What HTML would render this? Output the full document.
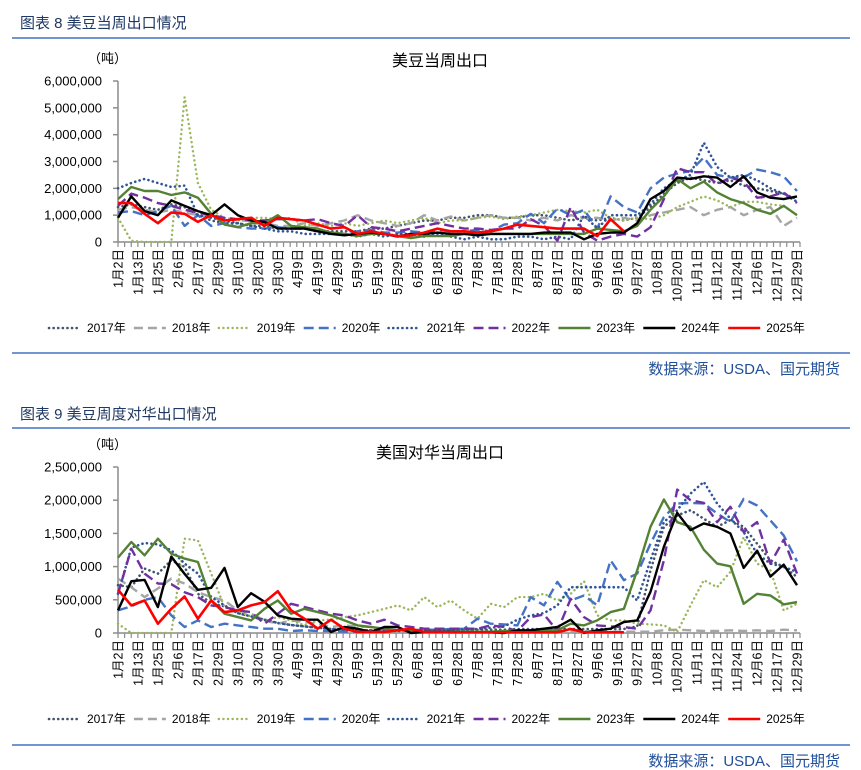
<!DOCTYPE html>
<html><head><meta charset="utf-8">
<style>
body{margin:0;background:#fff;width:861px;height:770px;overflow:hidden;font-family:"Liberation Sans","Noto Sans CJK SC",sans-serif;}
svg{display:block}
</style></head>
<body>
<svg id="svg" width="861" height="770" xmlns="http://www.w3.org/2000/svg" font-family="Liberation Sans, Noto Sans CJK SC, sans-serif">
<g>
<text x="20" y="28" font-size="15" fill="#1f3864">图表 8 美豆当周出口情况</text>
<line x1="12" y1="38" x2="850" y2="38" stroke="#4472c4" stroke-width="1.5"/>
</g>
<line x1="12" y1="353" x2="850" y2="353" stroke="#4472c4" stroke-width="1.5"/>
<text x="840" y="374" font-size="15" fill="#1f4e9a" text-anchor="end">数据来源：USDA、国元期货</text>
<g>
<text x="20" y="419" font-size="15" fill="#1f3864">图表 9 美豆周度对华出口情况</text>
<line x1="12" y1="428" x2="850" y2="428" stroke="#4472c4" stroke-width="1.5"/>
</g>
<line x1="12" y1="745" x2="850" y2="745" stroke="#4472c4" stroke-width="1.5"/>
<text x="840" y="766" font-size="15" fill="#1f4e9a" text-anchor="end">数据来源：USDA、国元期货</text>
</svg>
<script>
const xLabels=["1月2日","1月13日","1月25日","2月6日","2月17日","2月29日","3月10日","3月20日","3月30日","4月9日","4月19日","4月29日","5月9日","5月19日","5月29日","6月8日","6月18日","6月28日","7月8日","7月18日","7月28日","8月7日","8月17日","8月27日","9月6日","9月16日","9月27日","10月8日","10月20日","11月1日","11月12日","11月24日","12月6日","12月17日","12月29日"];
const seriesNames=["2017年","2018年","2019年","2020年","2021年","2022年","2023年","2024年","2025年"];
const topTicks=[0,1000000,2000000,3000000,4000000,5000000,6000000];
const topTickLabels=["0","1,000,000","2,000,000","3,000,000","4,000,000","5,000,000","6,000,000"];
const botTicks=[0,500000,1000000,1500000,2000000,2500000];
const botTickLabels=["0","500,000","1,000,000","1,500,000","2,000,000","2,500,000"];
// top chart values (million tonnes)
const top2017=[1.3,1.4,1.3,1.2,1.4,1.3,1.0,0.8,0.7,0.7,0.6,0.6,0.5,0.5,0.5,0.4,0.4,0.4,0.4,0.5,0.5,0.6,0.7,0.8,0.8,0.9,0.9,1.0,1.0,0.9,0.9,1.0,1.0,0.9,0.8,0.9,0.8,0.9,0.8,0.9,1.3,1.8,2.2,2.4,2.3,2.2,2.3,2.1,2.0,1.9,1.8,1.6];
const top2018=[1.2,1.3,1.2,1.1,1.2,1.1,1.0,0.9,0.9,0.8,0.8,0.7,0.6,0.6,0.7,0.6,0.7,0.8,1.0,0.8,0.7,0.6,0.7,1.0,0.8,0.95,0.8,0.9,1.0,0.9,0.9,0.8,0.9,0.8,1.0,0.9,0.9,0.8,0.9,0.8,1.0,1.1,1.2,1.3,1.0,1.2,1.3,1.0,1.2,1.3,0.6,0.9];
const top2019=[0.9,0.05,0,0,0,5.4,2.2,1.2,0.9,0.8,0.9,0.9,0.85,0.9,0.6,0.7,0.6,0.7,0.6,0.7,0.8,0.7,0.8,0.9,0.7,0.8,0.8,0.9,0.95,0.85,0.95,1.0,1.1,1.2,1.15,1.1,1.2,0.9,0.8,0.9,0.85,1.0,1.3,1.5,1.7,1.55,1.3,1.5,1.5,1.4,1.35,1.0];
const top2020=[1.1,1.15,1.0,1.15,1.35,0.6,1.0,0.6,0.7,0.55,0.5,0.5,0.55,0.5,0.5,0.4,0.35,0.3,0.4,0.45,0.35,0.35,0.4,0.35,0.45,0.4,0.4,0.45,0.4,0.65,0.7,1.05,0.7,1.25,1.0,1.2,0.5,1.7,1.3,1.1,2.0,2.4,2.55,2.65,3.15,2.5,2.4,2.4,2.7,2.6,2.45,1.9];
const top2021=[2.0,2.2,2.35,2.2,2.05,2.1,1.0,0.9,0.8,0.7,0.6,0.5,0.4,0.4,0.3,0.3,0.3,0.3,0.2,0.3,0.2,0.3,0.3,0.2,0.3,0.2,0.1,0.2,0.1,0.1,0.2,0.2,0.1,0.2,0.1,1.0,0.5,1.0,1.0,1.0,1.4,2.0,2.3,2.5,3.7,2.8,2.4,2.5,2.3,2.0,1.8,1.5];
const top2022=[1.35,1.8,1.65,1.45,1.35,1.2,1.1,1.0,0.9,0.85,0.8,0.8,0.85,0.85,0.8,0.85,0.7,0.6,1.0,0.55,0.5,0.4,0.5,0.6,0.7,0.6,0.5,0.5,0.45,0.5,0.5,0.85,0.6,0.05,1.3,0.35,0.05,0.2,0.3,0.2,0.55,1.6,2.75,2.6,2.6,2.15,2.4,2.25,1.65,1.7,1.85,1.45];
const top2023=[1.6,2.05,1.9,1.9,1.75,1.85,1.65,1.05,0.65,0.55,0.7,0.7,1.0,0.6,0.55,0.5,0.35,0.3,0.22,0.3,0.3,0.22,0.15,0.22,0.22,0.22,0.3,0.3,0.3,0.3,0.3,0.3,0.3,0.3,0.3,0.3,0.5,0.45,0.4,0.6,1.2,1.7,2.35,2.0,2.25,1.85,1.6,1.45,1.2,1.05,1.35,1.0];
const top2024=[0.9,1.7,1.15,1.0,1.55,1.35,1.15,1.0,1.4,1.0,0.8,0.75,0.5,0.5,0.5,0.4,0.3,0.25,0.3,0.35,0.3,0.2,0.3,0.3,0.35,0.3,0.3,0.25,0.3,0.3,0.3,0.3,0.35,0.35,0.35,0.1,0.3,0.35,0.35,0.7,1.6,1.9,2.4,2.35,2.45,2.4,2.05,2.45,1.85,1.65,1.6,1.7];
const top2025=[1.45,1.45,1.05,0.7,1.1,1.05,0.75,1.0,0.8,0.85,0.9,0.6,0.9,0.85,0.8,0.65,0.5,0.55,0.3,0.4,0.3,0.22,0.25,0.35,0.5,0.4,0.4,0.35,0.4,0.5,0.65,0.6,0.55,0.5,0.5,0.5,0.22,0.85,0.4];
// bottom chart values (thousand tonnes)
const bot2017=[720,690,970,895,1095,995,590,450,400,300,250,200,150,120,100,80,60,50,40,40,30,30,30,30,40,40,40,50,50,50,60,60,60,60,60,60,60,60,60,100,945,1600,1770,1850,1720,1600,1700,1600,1345,1095,995,845];
const bot2018=[820,690,540,670,820,745,615,540,490,340,290,190,140,190,165,140,90,115,100,90,40,30,20,20,20,20,20,20,20,20,20,20,20,30,30,30,20,20,20,20,20,40,50,40,30,30,40,30,40,30,50,40];
const bot2019=[140,0,0,0,0,1420,1395,895,390,340,240,190,240,190,115,190,200,240,265,315,365,415,340,540,390,490,340,215,440,390,540,540,590,490,590,780,265,190,190,140,130,115,15,415,795,690,920,1445,1045,945,340,440];
const bot2020=[340,400,500,540,265,90,190,90,140,115,90,65,65,30,40,30,30,20,20,20,30,40,40,50,50,60,65,215,140,130,115,540,415,770,490,565,415,1095,795,895,1345,1745,1950,1960,1950,1800,1670,2020,1920,1695,1470,1080];
const bot2021=[590,1285,1355,1335,1245,1045,895,540,415,300,250,200,150,120,100,80,60,50,40,40,40,40,40,40,40,40,50,60,80,100,200,265,300,415,690,690,690,690,690,490,1095,1670,1850,2100,2275,1950,1720,1520,1195,1045,995,920];
const bot2022=[590,1270,895,745,735,615,540,415,390,340,315,140,290,440,390,340,290,265,190,140,200,115,90,65,65,65,65,65,115,90,30,240,280,30,515,240,115,100,90,65,340,1095,2160,2000,1960,1670,1900,1520,1670,1045,1405,895];
const bot2023=[1135,1370,1170,1420,1195,1120,1070,490,290,240,190,365,490,290,365,315,265,190,115,90,65,40,40,20,20,20,20,20,20,30,30,40,40,40,140,115,190,315,365,945,1600,2010,1670,1600,1255,1045,1005,440,590,565,430,465];
const bot2024=[340,780,800,390,1150,890,650,680,980,390,600,470,265,215,200,200,15,90,65,15,90,90,0,15,15,15,10,10,10,0,40,40,65,90,200,0,40,65,165,190,620,1300,1810,1550,1650,1600,1500,980,1240,850,1030,720];
const bot2025=[650,415,490,140,365,550,215,490,315,340,415,465,630,340,215,65,200,65,15,15,15,40,65,15,15,10,10,10,10,10,10,10,10,10,60,10,10,10,10];

const NS="http://www.w3.org/2000/svg";
const svg=document.getElementById('svg');
const styles=[
 {c:"#44546a",w:2.6,d:"0.1 4.5",cap:"round"},
 {c:"#a5a5a5",w:2.4,d:"9 5",cap:"butt"},
 {c:"#9bb55a",w:2.4,d:"0.1 4.5",cap:"round"},
 {c:"#4472c4",w:2.4,d:"10 5",cap:"butt"},
 {c:"#2f5597",w:2.6,d:"0.1 4.5",cap:"round"},
 {c:"#7030a0",w:2.4,d:"10 5",cap:"butt"},
 {c:"#548235",w:2.4,d:"",cap:"butt"},
 {c:"#000000",w:2.4,d:"",cap:"butt"},
 {c:"#ff0000",w:2.6,d:"",cap:"butt"}];
function mk(tag,attrs,parent){const e=document.createElementNS(NS,tag);for(const k in attrs)e.setAttribute(k,attrs[k]);(parent||svg).appendChild(e);return e;}

function drawChart(cfg){
 const g=mk('g',{});
 
 
 const L=118,R=797,y0=cfg.y0,yT=cfg.yTop,max=cfg.max;
 const xs=i=>L+i*(R-L)/51;
 const ys=v=>y0-v/max*(y0-yT);
 const t=mk('text',{x:440,y:cfg.titleY,'font-size':16,'text-anchor':'middle',fill:'#000'},g);
 t.textContent=cfg.title;
 
 
 const u=mk('text',{x:88,y:yT-18,'font-size':13,fill:'#000'},g);
 u.textContent='（吨）';
 
 
 const ya=mk('line',{x1:L,y1:yT,x2:L,y2:y0,stroke:'#8c8c8c','stroke-width':1.5},g);
 
 
 cfg.ticks.forEach((v,k)=>{
  const y=ys(v/cfg.unit);
  mk('line',{x1:L-5,y1:y,x2:L,y2:y,stroke:'#8c8c8c','stroke-width':1.5},g);
  const tl=mk('text',{x:L-16,y:y+4.5,'font-size':13,'text-anchor':'end',fill:'#000'},g);
  tl.textContent=cfg.tickLabels[k];
  
  
 });
 const xa=mk('line',{x1:L,y1:y0,x2:800,y2:y0,stroke:'#8c8c8c','stroke-width':1.5},g);
 
 
 for(let k=0;k<=103;k++){const x=L+k*(800-L)/103;mk('line',{x1:x,y1:y0,x2:x,y2:y0+5,stroke:'#8c8c8c','stroke-width':1.2},g);}
 xLabels.forEach((s,k)=>{
  const x=L+k*(R-L)/34;
  const tl=mk('text',{x:0,y:0,'font-size':12.5,'text-anchor':'end',fill:'#000',transform:`translate(${x+4.5},${y0+7}) rotate(-90)`},g);
  tl.textContent=s;
  
  
 });
 cfg.data.forEach((arr,si)=>{
  const st=styles[si];
  const p=arr.map((v,i)=>(i?'L':'M')+xs(i).toFixed(1)+' '+ys(v).toFixed(1)).join(' ');
  const path=mk('path',{d:p,fill:'none',stroke:st.c,'stroke-width':st.w,'stroke-dasharray':st.d,'stroke-linecap':st.cap,'stroke-linejoin':'round'},g);
  
  
 });
 seriesNames.forEach((n,si)=>{
  const st=styles[si];
  const tx=87+si*84.9;
  const lg=mk('g',{},g);
  
  
  mk('line',{x1:tx-38,y1:cfg.legY-4,x2:tx-6,y2:cfg.legY-4,stroke:st.c,'stroke-width':st.w,'stroke-dasharray':st.d,'stroke-linecap':st.cap},lg);
  const lt=mk('text',{x:tx,y:cfg.legY,'font-size':12,fill:'#000'},lg);
  lt.textContent=n;
 });
}
drawChart({name:'chart-us-soybean-weekly-exports',title:'美豆当周出口',titleY:66,y0:242,yTop:81,max:6,unit:1e6,ticks:topTicks,tickLabels:topTickLabels,legY:332,
 data:[top2017,top2018,top2019,top2020,top2021,top2022,top2023,top2024,top2025]});
drawChart({name:'chart-us-soybean-exports-to-china',title:'美国对华当周出口',titleY:458,y0:633,yTop:467,max:2500,unit:1e3,ticks:botTicks,tickLabels:botTickLabels,legY:723,
 data:[bot2017,bot2018,bot2019,bot2020,bot2021,bot2022,bot2023,bot2024,bot2025]});
</script>
</body></html>
